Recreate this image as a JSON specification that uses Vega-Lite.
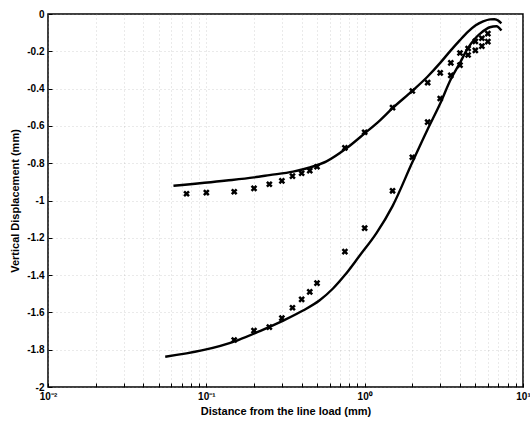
{
  "$schema": "https://vega.github.io/schema/vega-lite/v6.json",
  "width": 475,
  "height": 373,
  "autosize": {"type": "none"},
  "padding": {"left": 48, "top": 14, "right": 7, "bottom": 40},
  "background": "white",
  "config": {
    "view": {"stroke": "black", "strokeWidth": 1.5},
    "font": "Liberation Sans",
    "axis": {
      "labelFont": "Liberation Sans",
      "labelFontWeight": "bold",
      "labelFontSize": 10,
      "labelColor": "black",
      "titleFont": "Liberation Sans",
      "titleFontWeight": "bold",
      "titleFontSize": 11,
      "titleColor": "black",
      "domain": false,
      "tickColor": "black",
      "tickSize": -4,
      "gridColor": "#999999",
      "gridDash": [1, 3],
      "gridOpacity": 0.5,
      "gridWidth": 0.8
    }
  },
  "datasets": {
    "pts": [
      {"series": "A", "kind": "model", "x": 0.062, "y": -0.921},
      {"series": "A", "kind": "model", "x": 0.134, "y": -0.893},
      {"series": "A", "kind": "model", "x": 0.2, "y": -0.876},
      {"series": "A", "kind": "model", "x": 0.25, "y": -0.864},
      {"series": "A", "kind": "model", "x": 0.353, "y": -0.845},
      {"series": "A", "kind": "model", "x": 0.45, "y": -0.823},
      {"series": "A", "kind": "model", "x": 0.574, "y": -0.79},
      {"series": "A", "kind": "model", "x": 0.767, "y": -0.72},
      {"series": "A", "kind": "model", "x": 1.0, "y": -0.64},
      {"series": "A", "kind": "model", "x": 1.25, "y": -0.57},
      {"series": "A", "kind": "model", "x": 1.5, "y": -0.505},
      {"series": "A", "kind": "model", "x": 2.0, "y": -0.412},
      {"series": "A", "kind": "model", "x": 2.5, "y": -0.335},
      {"series": "A", "kind": "model", "x": 3.0, "y": -0.262},
      {"series": "A", "kind": "model", "x": 3.5, "y": -0.195},
      {"series": "A", "kind": "model", "x": 4.0, "y": -0.14},
      {"series": "A", "kind": "model", "x": 4.5, "y": -0.095},
      {"series": "A", "kind": "model", "x": 5.0, "y": -0.062},
      {"series": "A", "kind": "model", "x": 5.6, "y": -0.04},
      {"series": "A", "kind": "model", "x": 6.2, "y": -0.029},
      {"series": "A", "kind": "model", "x": 6.6, "y": -0.028},
      {"series": "A", "kind": "model", "x": 7.0, "y": -0.036},
      {"series": "A", "kind": "model", "x": 7.3, "y": -0.05},
      {"series": "B", "kind": "model", "x": 0.055, "y": -1.838},
      {"series": "B", "kind": "model", "x": 0.159, "y": -1.748},
      {"series": "B", "kind": "model", "x": 0.218, "y": -1.7},
      {"series": "B", "kind": "model", "x": 0.313, "y": -1.64},
      {"series": "B", "kind": "model", "x": 0.408, "y": -1.59},
      {"series": "B", "kind": "model", "x": 0.52, "y": -1.535},
      {"series": "B", "kind": "model", "x": 0.631, "y": -1.472},
      {"series": "B", "kind": "model", "x": 0.75, "y": -1.4},
      {"series": "B", "kind": "model", "x": 0.931, "y": -1.295},
      {"series": "B", "kind": "model", "x": 1.187, "y": -1.175},
      {"series": "B", "kind": "model", "x": 1.5, "y": -1.03},
      {"series": "B", "kind": "model", "x": 2.0, "y": -0.795},
      {"series": "B", "kind": "model", "x": 2.5, "y": -0.618},
      {"series": "B", "kind": "model", "x": 3.0, "y": -0.48},
      {"series": "B", "kind": "model", "x": 3.5, "y": -0.35},
      {"series": "B", "kind": "model", "x": 4.0, "y": -0.262},
      {"series": "B", "kind": "model", "x": 4.4, "y": -0.195},
      {"series": "B", "kind": "model", "x": 5.0, "y": -0.13},
      {"series": "B", "kind": "model", "x": 5.34, "y": -0.107},
      {"series": "B", "kind": "model", "x": 6.17, "y": -0.071},
      {"series": "B", "kind": "model", "x": 6.8, "y": -0.066},
      {"series": "B", "kind": "model", "x": 7.31, "y": -0.089},
      {"series": "A", "kind": "measured", "x": 0.075, "y": -0.964},
      {"series": "A", "kind": "measured", "x": 0.1, "y": -0.958},
      {"series": "A", "kind": "measured", "x": 0.15, "y": -0.953},
      {"series": "A", "kind": "measured", "x": 0.2, "y": -0.935},
      {"series": "A", "kind": "measured", "x": 0.25, "y": -0.913},
      {"series": "A", "kind": "measured", "x": 0.3, "y": -0.895},
      {"series": "A", "kind": "measured", "x": 0.35, "y": -0.869},
      {"series": "A", "kind": "measured", "x": 0.4, "y": -0.854},
      {"series": "A", "kind": "measured", "x": 0.45, "y": -0.84},
      {"series": "A", "kind": "measured", "x": 0.5, "y": -0.819},
      {"series": "A", "kind": "measured", "x": 0.75, "y": -0.718},
      {"series": "A", "kind": "measured", "x": 1.0, "y": -0.634},
      {"series": "A", "kind": "measured", "x": 1.5, "y": -0.502},
      {"series": "A", "kind": "measured", "x": 2.0, "y": -0.413},
      {"series": "A", "kind": "measured", "x": 2.5, "y": -0.368},
      {"series": "A", "kind": "measured", "x": 3.0, "y": -0.316},
      {"series": "A", "kind": "measured", "x": 3.5, "y": -0.262},
      {"series": "A", "kind": "measured", "x": 4.0, "y": -0.209},
      {"series": "A", "kind": "measured", "x": 4.5, "y": -0.185},
      {"series": "A", "kind": "measured", "x": 5.0, "y": -0.147},
      {"series": "A", "kind": "measured", "x": 5.5, "y": -0.13},
      {"series": "A", "kind": "measured", "x": 6.0, "y": -0.105},
      {"series": "B", "kind": "measured", "x": 0.15, "y": -1.748},
      {"series": "B", "kind": "measured", "x": 0.2, "y": -1.698},
      {"series": "B", "kind": "measured", "x": 0.25, "y": -1.679},
      {"series": "B", "kind": "measured", "x": 0.3, "y": -1.631},
      {"series": "B", "kind": "measured", "x": 0.35, "y": -1.575},
      {"series": "B", "kind": "measured", "x": 0.4, "y": -1.53},
      {"series": "B", "kind": "measured", "x": 0.45, "y": -1.49},
      {"series": "B", "kind": "measured", "x": 0.5, "y": -1.443},
      {"series": "B", "kind": "measured", "x": 0.75, "y": -1.274},
      {"series": "B", "kind": "measured", "x": 1.0, "y": -1.148},
      {"series": "B", "kind": "measured", "x": 1.5, "y": -0.948},
      {"series": "B", "kind": "measured", "x": 2.0, "y": -0.768},
      {"series": "B", "kind": "measured", "x": 2.5, "y": -0.58},
      {"series": "B", "kind": "measured", "x": 3.0, "y": -0.453},
      {"series": "B", "kind": "measured", "x": 3.5, "y": -0.329},
      {"series": "B", "kind": "measured", "x": 4.0, "y": -0.274},
      {"series": "B", "kind": "measured", "x": 4.5, "y": -0.22},
      {"series": "B", "kind": "measured", "x": 5.0, "y": -0.195},
      {"series": "B", "kind": "measured", "x": 5.5, "y": -0.172},
      {"series": "B", "kind": "measured", "x": 6.0, "y": -0.148}
    ]
  },
  "data": {"name": "pts"},
  "encoding": {
    "x": {
      "field": "x",
      "type": "quantitative",
      "scale": {"type": "log", "domain": [0.01, 10], "nice": false},
      "axis": {
        "title": "Distance from the line load (mm)",
        "values": [0.01, 0.02, 0.03, 0.04, 0.05, 0.06, 0.07, 0.08, 0.09, 0.1, 0.2, 0.3, 0.4, 0.5, 0.6, 0.7, 0.8, 0.9, 1, 2, 3, 4, 5, 6, 7, 8, 9, 10],
        "labelExpr": "datum.value == 0.01 ? '10⁻²' : datum.value == 0.1 ? '10⁻¹' : datum.value == 1 ? '10⁰' : datum.value == 10 ? '10¹' : ''",
        "labelOverlap": false,
        "labelFlush": false,
        "labelPadding": 8,
        "titlePadding": 4
      }
    },
    "y": {
      "field": "y",
      "type": "quantitative",
      "scale": {"domain": [-2, 0], "nice": false, "zero": false},
      "axis": {
        "title": "Vertical Displacement (mm)",
        "values": [-2, -1.8, -1.6, -1.4, -1.2, -1, -0.8, -0.6, -0.4, -0.2, 0],
        "labelExpr": "replace(format(datum.value, '~g'), '−', '-')",
        "labelPadding": 8,
        "titlePadding": 6
      }
    }
  },
  "layer": [
    {
      "transform": [{"filter": "datum.kind == 'model'"}],
      "mark": {"type": "line", "color": "black", "strokeWidth": 2.4, "interpolate": "monotone"},
      "encoding": {"detail": {"field": "series"}}
    },
    {
      "transform": [{"filter": "datum.kind == 'measured'"}],
      "mark": {"type": "point", "shape": "M-1,-1L1,1M-1,1L1,-1", "filled": false, "color": "black", "strokeWidth": 2.5, "size": 24, "opacity": 1}
    }
  ]
}
